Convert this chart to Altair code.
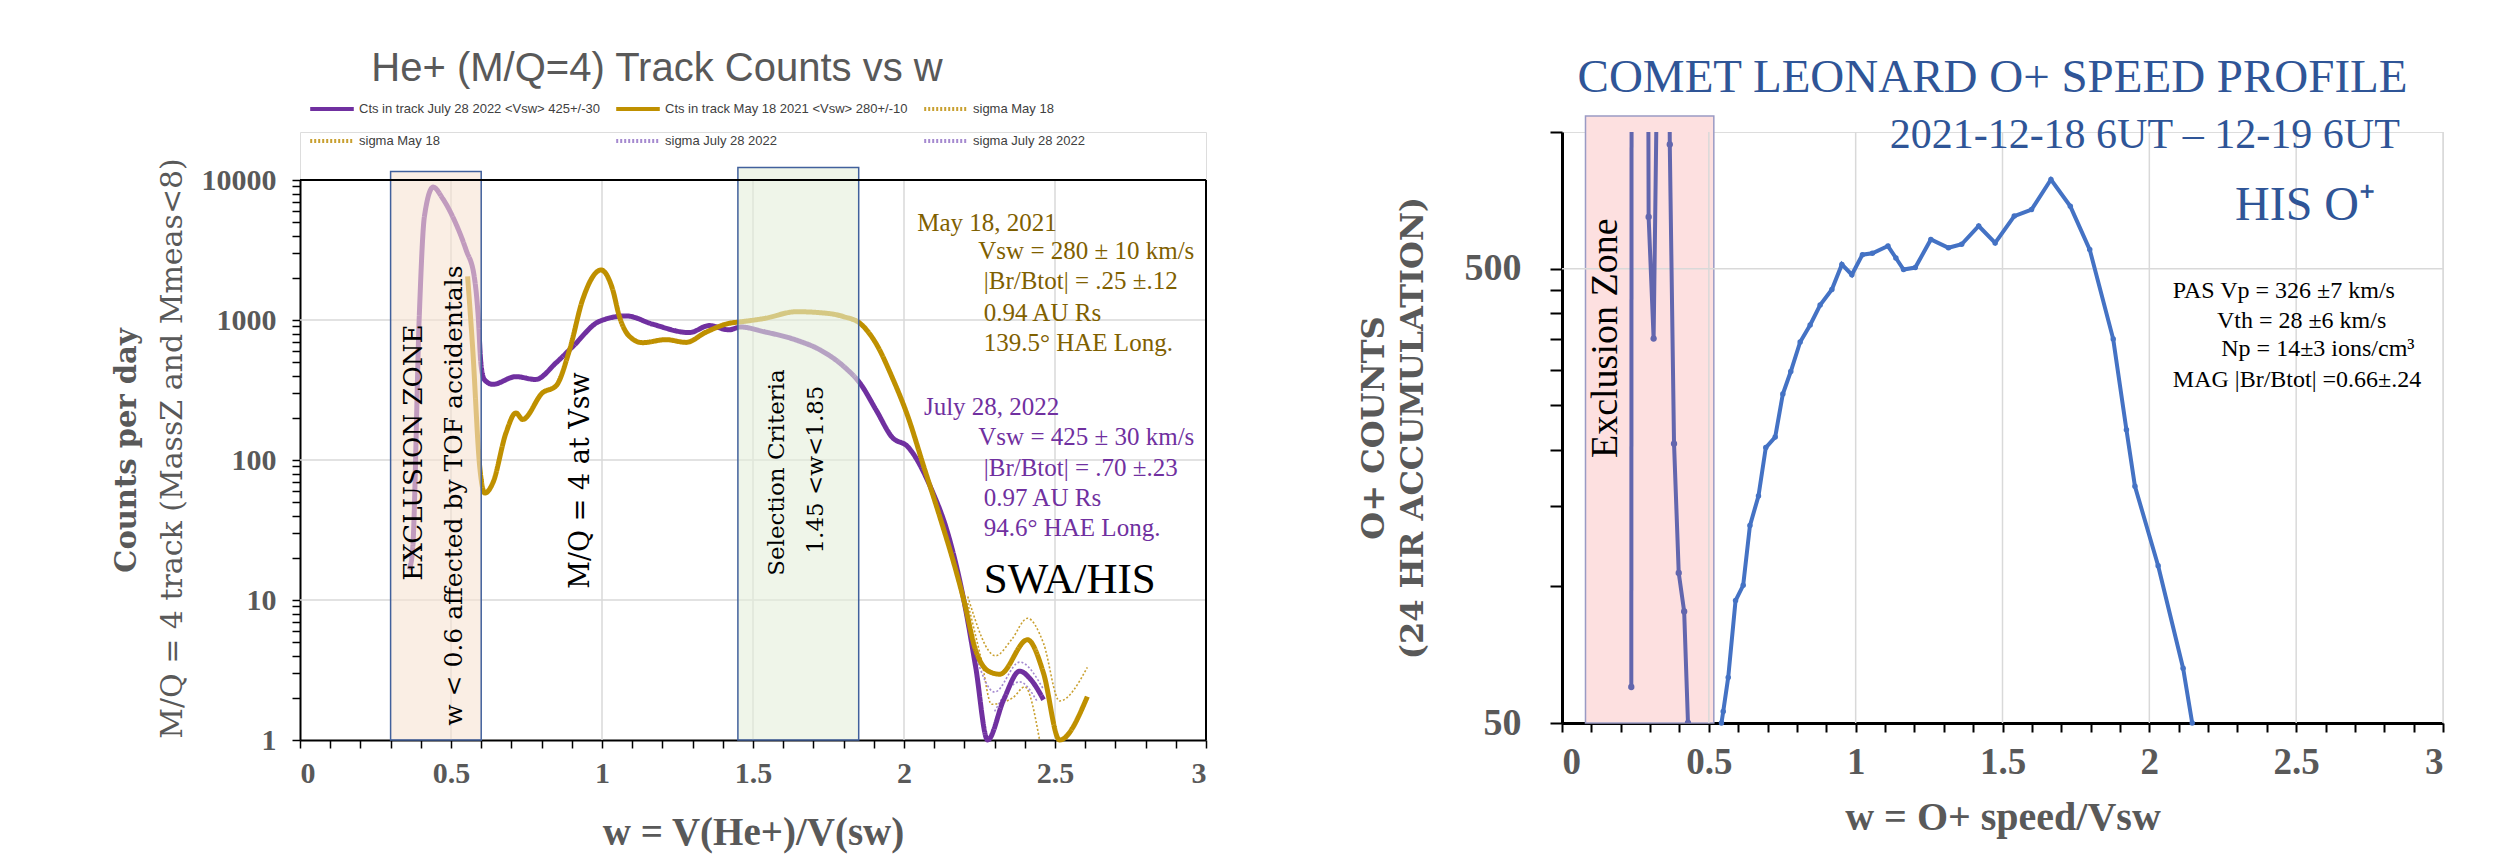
import altair as alt
import pandas as pd

# ---------------- LEFT PANEL DATA: He+ (M/Q=4) track counts ----------------
july_w = [0.362, 0.373, 0.395, 0.412, 0.441, 0.472, 0.505, 0.55, 0.577, 0.59,
          0.599, 0.61, 0.638, 0.715, 0.78, 0.848, 0.903, 0.991, 1.08, 1.168,
          1.289, 1.355, 1.42, 1.459, 1.538, 1.644, 1.723, 1.802, 1.855, 1.908,
          1.96, 2.013, 2.092, 2.145, 2.198, 2.237, 2.277, 2.33, 2.383, 2.42, 2.462]
july_c = [16.5, 23, 1070, 5500, 8900, 7400, 5500, 3160, 2040, 1070,
          490, 376, 347, 394, 376, 495, 645, 977, 1070, 933,
          813, 912, 851, 891, 824, 718, 610, 463, 352, 227,
          146, 124, 61, 30, 10, 3.36, 1.0, 1.94, 3.1, 2.7, 1.94]

may_w = [0.555, 0.572, 0.595, 0.612, 0.639, 0.682, 0.715, 0.737, 0.803, 0.848,
         0.893, 0.936, 0.997, 1.035, 1.057, 1.09, 1.134, 1.212, 1.278, 1.344,
         1.42, 1.459, 1.538, 1.644, 1.749, 1.802, 1.855, 1.908, 1.96, 2.013,
         2.066, 2.119, 2.172, 2.198, 2.237, 2.28, 2.317, 2.409, 2.462, 2.515, 2.607]
may_c = [2050, 617, 90, 58, 69, 156, 217, 195, 302, 339,
         617, 1400, 2275, 1660, 1070, 767, 689, 724, 692, 818,
         946, 970, 1026, 1146, 1114, 1054, 944, 676, 393, 204,
         89, 39, 16.2, 10, 4.4, 3.1, 2.95, 5.2, 3.0, 1.0, 2.04]

sig_may_hi_w = [2.211, 2.303, 2.356, 2.409, 2.462, 2.515, 2.607]
sig_may_hi_c = [10.6, 4.0, 5.2, 7.4, 4.9, 1.9, 3.3]
sig_may_lo_w = [2.211, 2.256, 2.29, 2.36, 2.40, 2.449]
sig_may_lo_c = [9.5, 3.76, 1.8, 2.0, 2.4, 1.0]
sig_jul_hi_w = [2.237, 2.30, 2.383, 2.462]
sig_jul_hi_c = [4.0, 2.2, 3.6, 2.3]
sig_jul_lo_w = [2.30, 2.383, 2.44]
sig_jul_lo_c = [1.6, 2.6, 1.9]

series_names = ["Cts in track July 28 2022 <Vsw> 425+/-30",
                "Cts in track May 18 2021 <Vsw> 280+/-10",
                "sigma May 18", "sigma May 18 ",
                "sigma July 28 2022", "sigma July 28 2022 "]
series_colors = ["#7030a0", "#bf9000", "#c9a030", "#c9a030", "#a58ad0", "#a58ad0"]
series_dash = [[1, 0], [1, 0], [2, 2], [2, 2], [2, 2], [2, 2]]

# boxes: exclusion zone and selection criteria
box_x1 = [0.3, 1.45]
box_x2 = [0.6, 1.85]
box_y1 = [1, 1]
box_y2 = [11500, 12300]
box_fill = ["#f7e2d2", "#e4eedb"]

left_xticks = [0, 0.1, 0.2, 0.3, 0.4, 0.5, 0.6, 0.7, 0.8, 0.9, 1, 1.1, 1.2, 1.3, 1.4, 1.5,
               1.6, 1.7, 1.8, 1.9, 2, 2.1, 2.2, 2.3, 2.4, 2.5, 2.6, 2.7, 2.8, 2.9, 3]
left_yticks = [1, 2, 3, 4, 5, 6, 7, 8, 9, 10, 20, 30, 40, 50, 60, 70, 80, 90,
               100, 200, 300, 400, 500, 600, 700, 800, 900,
               1000, 2000, 3000, 4000, 5000, 6000, 7000, 8000, 9000, 10000]
left_xgrid = [0.5, 1, 1.5, 2, 2.5]
left_ygrid = [10, 100, 1000]

# ---------------- RIGHT PANEL DATA: Comet Leonard O+ ----------------
o_w = [0.543, 0.549, 0.566, 0.591, 0.617, 0.64, 0.669, 0.694, 0.726, 0.752,
       0.779, 0.811, 0.845, 0.879, 0.919, 0.953, 0.987, 1.023, 1.057, 1.110,
       1.137, 1.163, 1.203, 1.256, 1.316, 1.361, 1.419, 1.475, 1.540, 1.599,
       1.665, 1.731, 1.797, 1.877, 1.922, 1.951, 2.030, 2.115, 2.146]
o_c = [50, 53, 63, 93, 100.5, 136, 158, 202, 213, 265,
       297, 345, 376, 416, 450, 511, 485, 537, 541, 561,
       528, 498, 503, 580, 556, 566, 621, 570, 653, 675,
       786, 686, 551, 350, 221, 166, 111, 66, 50]

excl_a_w = [0.236, 0.237]
excl_a_c = [60, 2000]
excl_b_w = [0.293, 0.295, 0.312, 0.327]
excl_b_c = [2000, 650, 351, 2000]
excl_c_w = [0.365, 0.367, 0.3815, 0.3975, 0.416, 0.429]
excl_c_c = [2000, 939, 206, 107, 88, 50]

rbox_x1 = [0.08]
rbox_x2 = [0.517]
rbox_y1 = [50]
rbox_y2 = [1085]

right_xticks = left_xticks
right_yticks = [50, 100, 150, 200, 250, 300, 350, 400, 450, 500, 1000]
right_xgrid = [0.5, 1, 1.5, 2, 2.5, 3]
right_ygrid = [500]

GRAY = "#595959"
BLUE = "#2f5597"
GOLD_T = "#7f6000"
PURP_T = "#7030a0"

# ---------------- shared scales / axes ----------------
HALF_EXPR = "abs(datum.value*2 - round(datum.value*2)) < 0.001 ? datum.label : ''"

LX = dict(scale=alt.Scale(domain=[0, 3], nice=False, zero=False),
          axis=alt.Axis(values=left_xticks, format="~g", labelExpr=HALF_EXPR,
                        title="w = V(He+)/V(sw)", grid=False,
                        domainColor="#000000", domainWidth=2, tickColor="#000000", tickWidth=1.5,
                        tickSize=8, labelFont="Liberation Serif", labelFontWeight="bold",
                        labelFontSize=30, labelColor=GRAY, labelPadding=10,
                        titleFont="Liberation Serif", titleFontWeight="bold", titleFontSize=39,
                        titleColor=GRAY, titlePadding=25))
LY = dict(scale=alt.Scale(type="log", domain=[1, 10000], range=[608, 48]),
          axis=alt.Axis(values=left_yticks, format="d",
                        labelExpr="indexof([1,10,100,1000,10000], datum.value) >= 0 ? datum.label : ''",
                        title="M/Q = 4 track (MassZ and Mmeas<8)", grid=False,
                        domainColor="#000000", domainWidth=2, tickColor="#000000", tickWidth=1.5,
                        tickSize=8, labelFont="Liberation Serif", labelFontWeight="bold",
                        labelFontSize=30, labelColor=GRAY, labelPadding=16,
                        titleFont="DejaVu Serif", titleFontWeight="normal", titleFontSize=30,
                        titleColor=GRAY, titlePadding=14, titleY=316))

RX = dict(scale=alt.Scale(domain=[0, 3], nice=False, zero=False),
          axis=alt.Axis(values=right_xticks, format="~g", labelExpr=HALF_EXPR,
                        title="w = O+ speed/Vsw", grid=False,
                        domainColor="#000000", domainWidth=3, tickColor="#000000", tickWidth=2,
                        tickSize=9, labelFont="Liberation Serif", labelFontWeight="bold",
                        labelFontSize=37, labelColor=GRAY, labelPadding=12,
                        titleFont="Liberation Serif", titleFontWeight="bold", titleFontSize=40,
                        titleColor=GRAY, titlePadding=17))
RY = dict(scale=alt.Scale(type="log", domain=[50, 1000], nice=False),
          axis=alt.Axis(values=right_yticks, format="d",
                        labelExpr="indexof([50,500], datum.value) >= 0 ? datum.label : ''",
                        title=["O+ COUNTS", "(24 HR ACCUMULATION)"], grid=False,
                        domainColor="#000000", domainWidth=3, tickColor="#000000", tickWidth=2,
                        tickSize=12, labelFont="Liberation Serif", labelFontWeight="bold",
                        labelFontSize=38, labelColor=GRAY, labelPadding=29,
                        titleFont="DejaVu Serif", titleFontWeight="bold", titleFontSize=32,
                        titleColor=GRAY, titlePadding=35, titleLineHeight=39))


def note(text, w, c, size, SX, SY, color="#000000", font="Liberation Serif", weight="normal",
         angle=0, align="left", baseline="alphabetic"):
    df = pd.DataFrame({"w": [w], "c": [c], "t": [text]})
    return alt.Chart(df).mark_text(font=font, fontSize=size, fontWeight=weight, color=color,
                                   angle=angle, align=align, baseline=baseline).encode(
        x=alt.X("w:Q", **SX), y=alt.Y("c:Q", **SY), text="t:N")


# ---------------- build left panel ----------------
frames = []
for name, ws, cs in [(series_names[0], july_w, july_c), (series_names[1], may_w, may_c),
                     (series_names[2], sig_may_hi_w, sig_may_hi_c),
                     (series_names[3], sig_may_lo_w, sig_may_lo_c),
                     (series_names[4], sig_jul_hi_w, sig_jul_hi_c),
                     (series_names[5], sig_jul_lo_w, sig_jul_lo_c)]:
    frames.append(pd.DataFrame({"w": ws, "c": cs, "series": name}))
left_df = pd.concat(frames, ignore_index=True)
main_df = left_df[left_df["series"].isin(series_names[:2])]
sig_df = left_df[~left_df["series"].isin(series_names[:2])]

leg = alt.Legend(title=None, orient="none", legendX=8, legendY=-47, direction="horizontal",
                 columns=3, symbolType="stroke", symbolSize=1900, symbolStrokeWidth=4,
                 labelFont="Liberation Sans", labelFontSize=13, labelColor="#404040",
                 labelLimit=600, columnPadding=8, rowPadding=-13, labelOffset=3)
col_enc = alt.Color("series:N", scale=alt.Scale(domain=series_names, range=series_colors), legend=leg)
dash_enc = alt.StrokeDash("series:N", scale=alt.Scale(domain=series_names, range=series_dash), legend=leg)

left_sigma = alt.Chart(sig_df).mark_line(interpolate="monotone", strokeWidth=1.6).encode(
    x=alt.X("w:Q", **LX), y=alt.Y("c:Q", **LY), color=col_enc, strokeDash=dash_enc)
left_main = alt.Chart(main_df).mark_line(interpolate="monotone", strokeWidth=5).encode(
    x=alt.X("w:Q", **LX), y=alt.Y("c:Q", **LY), color=col_enc, strokeDash=dash_enc)

gx_df = pd.DataFrame({"w": left_xgrid, "lo": [1] * len(left_xgrid), "hi": [10000] * len(left_xgrid)})
left_vgrid = alt.Chart(gx_df).mark_rule(color="#d9d9d9", strokeWidth=1.5).encode(
    x=alt.X("w:Q", **LX), y=alt.Y("lo:Q", **LY), y2="hi:Q")
gy_df = pd.DataFrame({"c": left_ygrid, "x0": [0] * len(left_ygrid), "x1": [3] * len(left_ygrid)})
left_hgrid = alt.Chart(gy_df).mark_rule(color="#d9d9d9", strokeWidth=1.5).encode(
    y=alt.Y("c:Q", **LY), x=alt.X("x0:Q", **LX), x2="x1:Q")

box_df = pd.DataFrame({"x1": box_x1, "x2": box_x2, "y1": box_y1, "y2": box_y2, "f": box_fill})
left_boxes = alt.Chart(box_df).mark_rect(fillOpacity=0.6, stroke="#41609c", strokeWidth=1.5,
                                         strokeOpacity=1).encode(
    x=alt.X("x1:Q", **LX), x2="x2:Q", y=alt.Y("y1:Q", **LY), y2="y2:Q",
    fill=alt.Fill("f:N", scale=None))

top_df = pd.DataFrame({"x0": [0], "x1": [3], "c": [10000]})
left_top = alt.Chart(top_df).mark_rule(color="#000000", strokeWidth=2).encode(
    x=alt.X("x0:Q", **LX), x2="x1:Q", y=alt.Y("c:Q", **LY))
rside_df = pd.DataFrame({"w": [3], "lo": [1], "hi": [10000]})
left_rside = alt.Chart(rside_df).mark_rule(color="#000000", strokeWidth=2).encode(
    x=alt.X("w:Q", **LX), y=alt.Y("lo:Q", **LY), y2="hi:Q")

left_notes = [
    note("Counts per day", -0.5735, 117, 29, LX, LY, GRAY, "DejaVu Serif", "bold", 270, "center", "middle"),
    note("EXCLUSION ZONE", 0.377, 113, 26, LX, LY, "#000000", "DejaVu Serif", "normal", 270, "center", "middle"),
    note("w < 0.6 affected by TOF accidentals", 0.509, 55.7, 25, LX, LY, "#000000", "DejaVu Serif", "normal", 270, "center", "middle"),
    note("M/Q = 4 at Vsw", 0.931, 71.3, 27, LX, LY, "#000000", "DejaVu Serif", "normal", 270, "center", "middle"),
    note("Selection Criteria", 1.578, 81.4, 23, LX, LY, "#000000", "DejaVu Serif", "normal", 270, "center", "middle"),
    note("1.45 <w<1.85", 1.71, 85.5, 23, LX, LY, "#000000", "DejaVu Serif", "normal", 270, "center", "middle"),
    note("May 18, 2021", 2.044, 4300, 25, LX, LY, GOLD_T),
    note("Vsw = 280 ± 10 km/s", 2.246, 2712, 25, LX, LY, GOLD_T),
    note("|Br/Btot| = .25 ±.12", 2.264, 1656, 25, LX, LY, GOLD_T),
    note("0.94 AU  Rs", 2.264, 982, 25, LX, LY, GOLD_T),
    note("139.5° HAE Long.", 2.264, 600, 25, LX, LY, GOLD_T),
    note("July 28, 2022", 2.066, 211, 25, LX, LY, PURP_T),
    note("Vsw = 425 ± 30 km/s", 2.246, 129, 25, LX, LY, PURP_T),
    note("|Br/Btot| = .70 ±.23", 2.264, 76.6, 25, LX, LY, PURP_T),
    note("0.97 AU  Rs", 2.264, 46.7, 25, LX, LY, PURP_T),
    note("94.6° HAE Long.", 2.264, 28.5, 25, LX, LY, PURP_T),
    note("SWA/HIS", 2.264, 11.3, 43, LX, LY, "#000000"),
]

left = alt.layer(left_vgrid, left_hgrid, left_sigma, left_main, left_boxes, left_top, left_rside,
                 *left_notes).properties(
    width=906, height=608,
    title=alt.TitleParams("He+ (M/Q=4) Track Counts vs w", font="Liberation Sans", fontSize=40,
                          fontWeight="normal", color=GRAY, anchor="middle", dx=-96, offset=43))

# ---------------- build right panel ----------------
o_df = pd.DataFrame({"w": o_w, "c": o_c})
right_main = alt.Chart(o_df).mark_line(color="#4472c4", strokeWidth=4,
                                       point=alt.OverlayMarkDef(color="#4472c4", size=30, filled=True)).encode(
    x=alt.X("w:Q", **RX), y=alt.Y("c:Q", **RY))

ex_frames = [pd.DataFrame({"w": excl_a_w, "c": excl_a_c, "k": "a"}),
             pd.DataFrame({"w": excl_b_w, "c": excl_b_c, "k": "b"}),
             pd.DataFrame({"w": excl_c_w, "c": excl_c_c, "k": "c"})]
ex_df = pd.concat(ex_frames, ignore_index=True)
right_excl = alt.Chart(ex_df).mark_line(color="#6266ae", strokeWidth=4, clip=True,
                                        point=alt.OverlayMarkDef(color="#6266ae", size=40, filled=True, clip=True)).encode(
    x=alt.X("w:Q", **RX), y=alt.Y("c:Q", **RY), detail="k:N", order="w:Q")

rgx_df = pd.DataFrame({"w": right_xgrid, "lo": [50] * len(right_xgrid), "hi": [1000] * len(right_xgrid)})
right_vgrid = alt.Chart(rgx_df).mark_rule(color="#d9d9d9", strokeWidth=1.5).encode(
    x=alt.X("w:Q", **RX), y=alt.Y("lo:Q", **RY), y2="hi:Q")
rgy_df = pd.DataFrame({"c": right_ygrid, "x0": [0], "x1": [3]})
right_hgrid = alt.Chart(rgy_df).mark_rule(color="#d9d9d9", strokeWidth=1.5).encode(
    y=alt.Y("c:Q", **RY), x=alt.X("x0:Q", **RX), x2="x1:Q")

rbox_df = pd.DataFrame({"x1": rbox_x1, "x2": rbox_x2, "y1": rbox_y1, "y2": rbox_y2})
right_box = alt.Chart(rbox_df).mark_rect(fill="#fde0e0", stroke="#9a9ac4", strokeWidth=1.5).encode(
    x=alt.X("x1:Q", **RX), x2="x2:Q", y=alt.Y("y1:Q", **RY), y2="y2:Q")

right_notes = [
    note("Exclusion Zone", 0.149, 351.5, 38, RX, RY, "#000000", "Liberation Serif", "normal", 270, "center", "middle"),
    note("2021-12-18 6UT – 12-19 6UT", 2.853, 922, 42, RX, RY, BLUE, align="right"),
    note("HIS O⁺", 2.53, 640, 48, RX, RY, BLUE, align="center"),
    note("PAS Vp = 326 ±7 km/s", 2.08, 431, 24, RX, RY),
    note("Vth = 28 ±6 km/s", 2.23, 370, 24, RX, RY),
    note("Np = 14±3 ions/cm³", 2.245, 321, 24, RX, RY),
    note("MAG |Br/Btot| =0.66±.24", 2.08, 274, 24, RX, RY),
]

right = alt.layer(right_box, right_vgrid, right_hgrid, right_main, right_excl, *right_notes).properties(
    width=881, height=591,
    title=alt.TitleParams("COMET LEONARD O+ SPEED PROFILE", font="Liberation Serif", fontSize=47,
                          fontWeight="normal", color=BLUE, anchor="middle", dx=-10, offset=12))

chart = alt.hconcat(left, right, spacing=148).properties(
    padding={"left": 104, "top": 40, "right": 5, "bottom": 5}
).configure_view(strokeWidth=0).configure(background="white")

chart.save("out.html", embed_options={"renderer": "svg", "actions": False})
